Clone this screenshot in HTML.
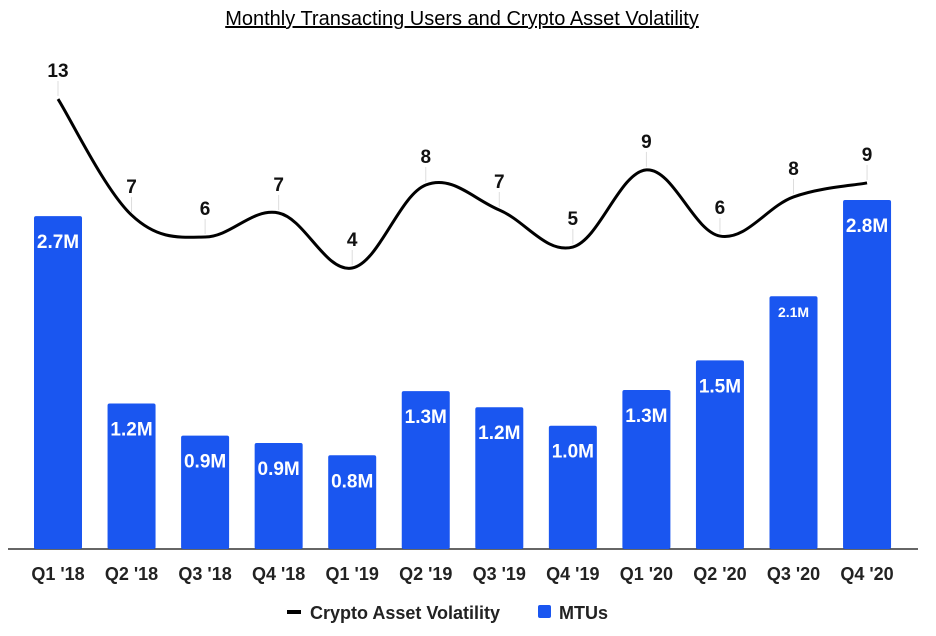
<!DOCTYPE html>
<html><head><meta charset="utf-8"><style>
body{margin:0;background:#fff;font-family:"Liberation Sans",Arial,sans-serif}
svg{display:block}
</style></head><body>
<svg id="c" width="936" height="636" xmlns="http://www.w3.org/2000/svg">
<text x="462" y="25" text-anchor="middle" font-size="20" text-decoration="underline" fill="#000">Monthly Transacting Users and Crypto Asset Volatility</text>
<line x1="8" y1="549" x2="918" y2="549" stroke="#333" stroke-width="1.5"/>
<g id="bars"></g><g id="line"></g><g id="xl"></g>
<g>
<rect x="287" y="610" width="14" height="4" fill="#000"/>
<text x="310" y="619" font-size="18" font-weight="bold" fill="#222">Crypto Asset Volatility</text>
<rect x="538" y="605" width="13" height="13" rx="2" fill="#1a56f0"/>
<text x="559" y="619" font-size="18" font-weight="bold" fill="#222">MTUs</text>
</g>
</svg>
<script>
const categories=["Q1 '18","Q2 '18","Q3 '18","Q4 '18","Q1 '19","Q2 '19","Q3 '19","Q4 '19","Q1 '20","Q2 '20","Q3 '20","Q4 '20"];
const mtus=[2.70,1.18,0.92,0.86,0.76,1.28,1.15,1.00,1.29,1.53,2.05,2.83];
const mtuLabels=["2.7M","1.2M","0.9M","0.9M","0.8M","1.3M","1.2M","1.0M","1.3M","1.5M","2.1M","2.8M"];
const volatility=[12.94,6.80,5.64,6.91,4.0,8.39,7.07,5.11,9.19,5.69,7.76,8.50];
const volLabels=["13","7","6","7","4","8","7","5","9","6","8","9"];
const NS="http://www.w3.org/2000/svg";
const xS=i=>58+i*73.55;
const yM=v=>549-v*123.3;
const yV=v=>343.6-v*18.9;
function mk(t,a,p){const e=document.createElementNS(NS,t);for(const k in a)e.setAttribute(k,a[k]);p.appendChild(e);return e;}
const gb=document.getElementById('bars'),gl=document.getElementById('line'),gx=document.getElementById('xl');
mtus.forEach((v,i)=>{
 const r=mk('rect',{x:xS(i)-24,y:yM(v),width:48,height:549-yM(v),rx:2,fill:'#1a56f0'},gb);
 
 
 const small=mtuLabels[i]==="2.1M";
 const t=mk('text',{x:xS(i),y:yM(v)+(small?21:32),'text-anchor':'middle','font-size':small?14:19,'font-weight':'bold',fill:'#fff'},gb);
 t.textContent=mtuLabels[i];
 
 
 const x=mk('text',{x:xS(i),y:580,'text-anchor':'middle','font-size':18,'font-weight':'bold',fill:'#222'},gx);
 x.textContent=categories[i];
 
 
});
const pts=volatility.map((v,i)=>[xS(i),yV(v)]);
let d='M'+pts[0][0]+','+pts[0][1];
for(let i=0;i<pts.length-1;i++){
 const p0=pts[Math.max(0,i-1)],p1=pts[i],p2=pts[i+1],p3=pts[Math.min(pts.length-1,i+2)];
 const k=0.18;
 const c1=[p1[0]+(p2[0]-p0[0])*k,p1[1]+(p2[1]-p0[1])*k];
 const c2=[p2[0]-(p3[0]-p1[0])*k,p2[1]-(p3[1]-p1[1])*k];
 d+=` C${c1[0]},${c1[1]} ${c2[0]},${c2[1]} ${p2[0]},${p2[1]}`;
}
volatility.forEach((v,i)=>{
 const y=yV(v);
 const tk=mk('line',{x1:xS(i),y1:y-18,x2:xS(i),y2:y-3,stroke:'#ddd','stroke-width':1},gl);
 
 
 const t=mk('text',{x:xS(i),y:y-22,'text-anchor':'middle','font-size':19,'font-weight':'bold',fill:'#111'},gl);
 t.textContent=volLabels[i];
 
 
});
const p=mk('path',{d:d,fill:'none',stroke:'#000','stroke-width':3},gl);


</script>
</body></html>
